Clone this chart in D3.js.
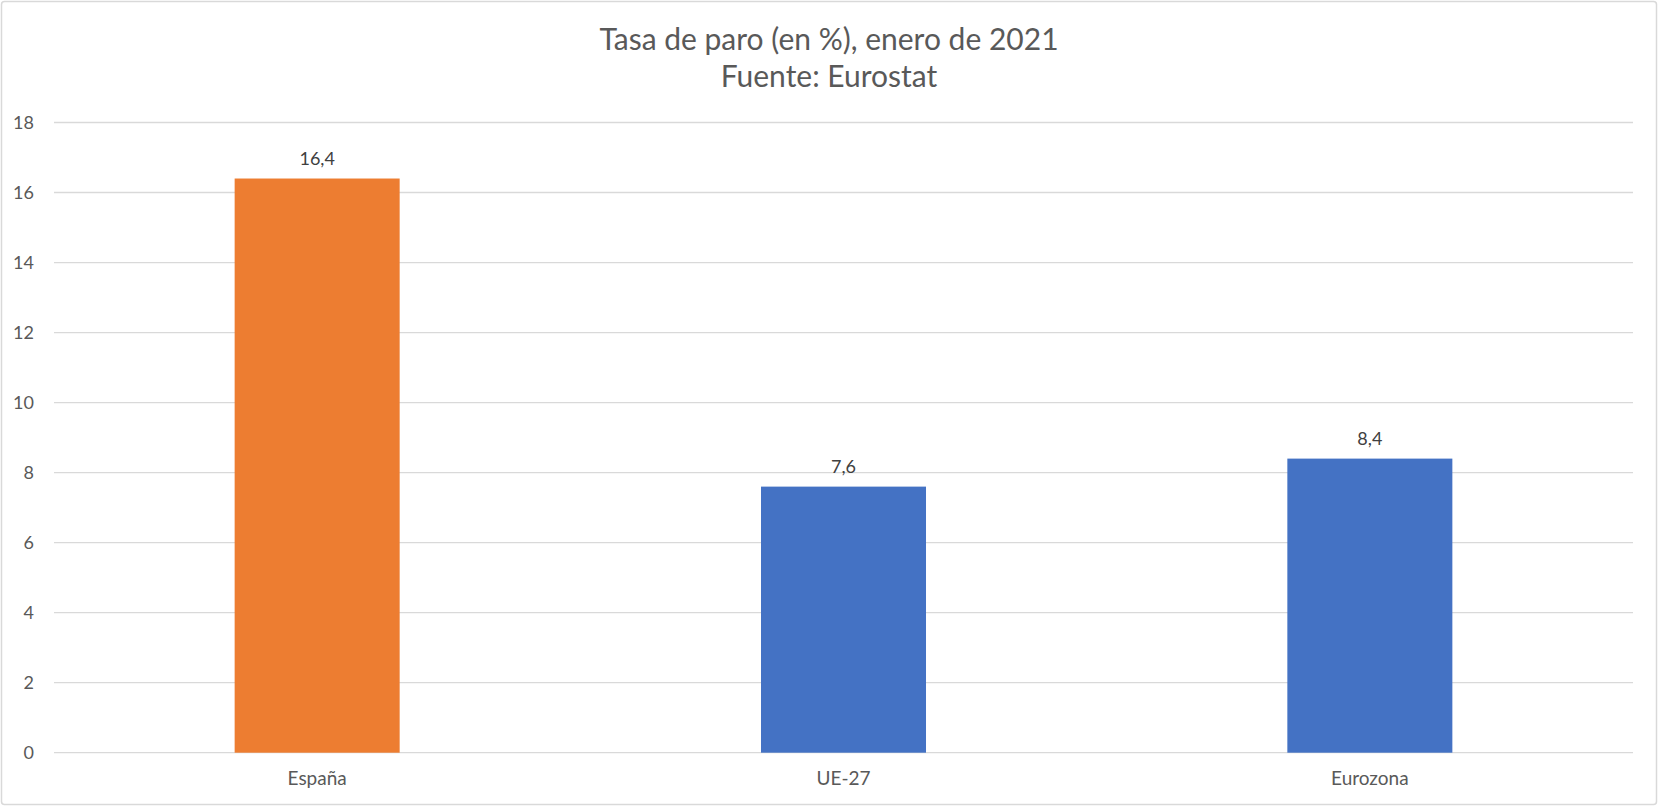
<!DOCTYPE html>
<html>
<head>
<meta charset="utf-8">
<script src="https://cdn.jsdelivr.net/npm/d3@7"></script>
<style>
  html, body { margin: 0; padding: 0; background: #fff; }
  svg { display: block; }
  text { font-family: Lato, "Open Sans", sans-serif; }
</style>
</head>
<body>
<svg id="chart" width="1658" height="806"></svg>
<script>
const categories = ["España", "UE-27", "Eurozona"];
const values = [16.4, 7.6, 8.4];
const barColors = ["#ED7D31", "#4472C4", "#4472C4"];
const valueLabels = ["16,4", "7,6", "8,4"];
const yTicks = [0, 2, 4, 6, 8, 10, 12, 14, 16, 18];
const titleLines = ["Tasa de paro (en %), enero de 2021", "Fuente: Eurostat"];

const W = 1658, H = 806;
const margin = { left: 54, right: 25, top: 122.5, bottom: 53.3 };
const svg = d3.select("#chart");

svg.append("rect")
  .attr("x", 1.5).attr("y", 1.5)
  .attr("width", W - 3).attr("height", H - 3)
  .attr("rx", 3)
  .attr("fill", "#fff")
  .attr("stroke", "#D9D9D9")
  .attr("stroke-width", 1.5);

const x = d3.scaleBand()
  .domain(categories)
  .range([margin.left, W - margin.right])
  .paddingInner(0.6865)
  .paddingOuter(0.3432);

const y = d3.scaleLinear()
  .domain([0, 18])
  .range([H - margin.bottom, margin.top]);

// gridlines
svg.append("g")
  .selectAll("line")
  .data(yTicks)
  .join("line")
  .attr("x1", margin.left)
  .attr("x2", W - margin.right)
  .attr("y1", d => y(d))
  .attr("y2", d => y(d))
  .attr("stroke", "#D9D9D9")
  .attr("stroke-width", 1.3);

// y axis labels
const yAxis = d3.axisLeft(y).tickValues(yTicks).tickSize(0).tickPadding(0).tickFormat(d3.format("d"));
const ya = svg.append("g")
  .attr("transform", `translate(${margin.left - 20},0)`)
  .call(yAxis);
ya.select(".domain").remove();
ya.selectAll("text")
  .attr("fill", "#595959")
  .style("font-size", "18px")
  .style("font-family", "Lato, 'Open Sans', sans-serif");

// bars
svg.append("g")
  .selectAll("rect")
  .data(values)
  .join("rect")
  .attr("x", (d, i) => x(categories[i]))
  .attr("width", x.bandwidth())
  .attr("y", d => y(d))
  .attr("height", d => y(0) - y(d))
  .attr("fill", (d, i) => barColors[i]);

// value labels
svg.append("g")
  .selectAll("text")
  .data(values)
  .join("text")
  .attr("x", (d, i) => x(categories[i]) + x.bandwidth() / 2)
  .attr("y", d => y(d) - 14)
  .attr("text-anchor", "middle")
  .attr("fill", "#404040")
  .style("font-size", "18px")
  .text((d, i) => valueLabels[i]);

// x axis labels
const xAxis = d3.axisBottom(x).tickSize(0).tickPadding(0);
const xa = svg.append("g")
  .attr("transform", `translate(0,${y(0) + 19})`)
  .call(xAxis);
xa.select(".domain").remove();
xa.selectAll("text")
  .attr("fill", "#595959")
  .style("font-size", "19px")
  .style("font-family", "Lato, 'Open Sans', sans-serif");

// title
svg.append("g")
  .selectAll("text")
  .data(titleLines)
  .join("text")
  .attr("x", W / 2 + 0)
  .attr("y", (d, i) => 50 + i * 37)
  .attr("text-anchor", "middle")
  .attr("fill", "#595959")
  .style("font-size", "30px")
  .text(d => d);
</script>
</body>
</html>
